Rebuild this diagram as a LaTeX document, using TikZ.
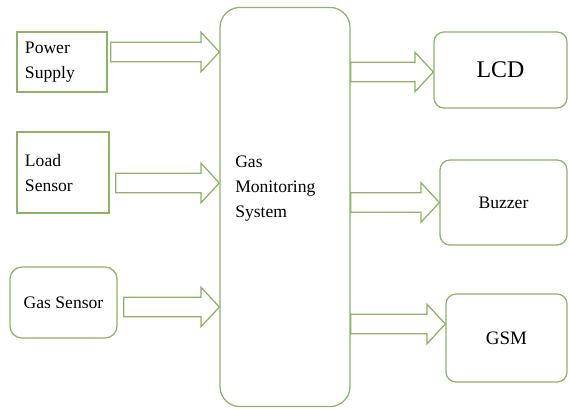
\documentclass[tikz,border=0pt]{standalone}
\usepackage{fontspec}
\setmainfont{Liberation Serif}
\usetikzlibrary{calc}
\definecolor{boxgreen}{RGB}{140,180,100}

\tikzset{
  blk/.style={draw=boxgreen, line width=0.9pt, inner sep=0pt,
    font=\fontsize{12.5}{17.8}\selectfont},
  sqblk/.style={blk, inner xsep=0.2cm, align=left},
  rblk/.style={blk, rounded corners=#1, align=center},
  flow/.style={draw=boxgreen, line width=0.9pt, fill=white}
}

\newcommand{\hollowarrow}[2]{%
  \draw[flow] let \p1=(#1), \p2=(#2) in
    (\x1,\y1+7pt) -- (\x2-13pt,\y1+7pt) -- (\x2-13pt,\y1+14pt) -- (\x2,\y1)
    -- (\x2-13pt,\y1-14pt) -- (\x2-13pt,\y1-7pt) -- (\x1,\y1-7pt) -- cycle;}

\begin{document}
\begin{tikzpicture}[x=0.025cm,y=-0.025cm]
  \useasboundingbox (0,0) rectangle (569,408);

  % inputs
  \node[sqblk, minimum width=2.25cm, minimum height=1.5cm, text width=1.85cm] (ps) at (62,62) {Power\\Supply};
  \node[sqblk, minimum width=2.3cm, minimum height=2.025cm, text width=1.9cm] (ls) at (63,172.5) {Load\\Sensor};
  \node[rblk=0.3cm, minimum width=2.675cm, minimum height=1.775cm] (gs) at (63.5,302.5) {Gas Sensor};

  % controller
  \node[rblk=0.5cm, minimum width=3.25cm, minimum height=9.975cm] (gms) at (285,207) {};
  \node[font=\fontsize{12.5}{17.8}\selectfont, align=left, anchor=west, inner sep=0pt] (gmstext) at (235,189) {Gas\\Monitoring\\System};

  % outputs
  \node[rblk=0.25cm, minimum width=3.325cm, minimum height=1.9cm, font=\fontsize{17}{20}\selectfont] (lcd) at (500.5,70) {LCD};
  \node[rblk=0.25cm, minimum width=3.175cm, minimum height=2.125cm] (bz) at (503.5,202.5) {Buzzer};
  \node[rblk=0.25cm, minimum width=3.025cm, minimum height=2.2cm, font=\fontsize{13.5}{16}\selectfont] (gsm) at (506.5,338) {GSM};

  \hollowarrow{$(ps.east)+(3,-10)$}{gms.west}
  \hollowarrow{$(ls.east)+(6,10.5)$}{gms.west}
  \hollowarrow{$(gs.east)+(6,4.5)$}{gms.west}
  \hollowarrow{$(gms.east |- lcd.west)+(0,2)$}{lcd.west}
  \hollowarrow{$(gms.east |- bz.west)+(0,0)$}{bz.west}
  \hollowarrow{$(gms.east |- gsm.west)+(0,-14)$}{gsm.west}
\end{tikzpicture}
\end{document}
